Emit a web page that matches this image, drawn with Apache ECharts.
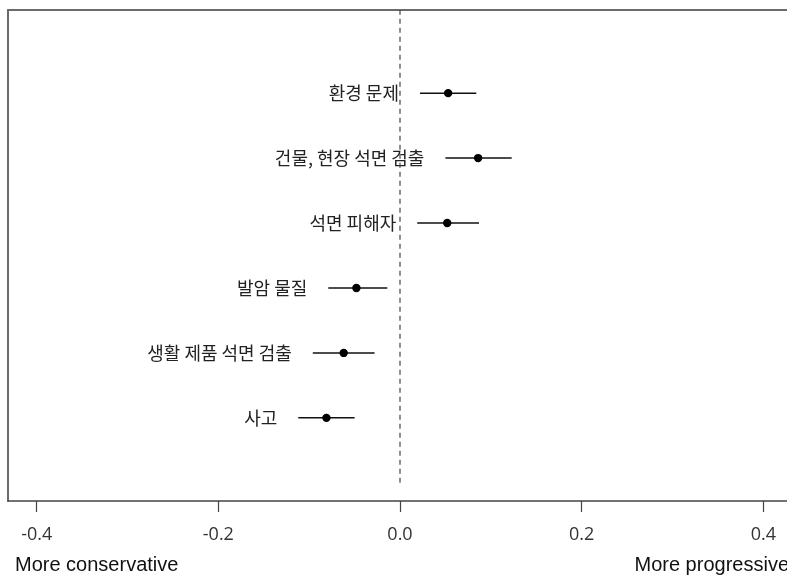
<!DOCTYPE html>
<html>
<head>
<meta charset="utf-8">
<script src="https://cdn.jsdelivr.net/npm/echarts@6/dist/echarts.min.js"></script>
<style>
  html, body { margin: 0; padding: 0; background: #fff; overflow: hidden; }
  #chart { width: 800px; height: 580px; }
</style>
</head>
<body>
<div id="chart"></div>
<script>
// Topic effects on perceived ideology: point estimate with interval
const topics = ['사고', '생활 제품 석면 검출', '발암 물질', '석면 피해자', '건물, 현장 석면 검출', '환경 문제'];
const estimates = [-0.081, -0.062, -0.048, 0.052, 0.086, 0.053];
const lowerCI = [-0.112, -0.096, -0.079, 0.019, 0.050, 0.022];
const upperCI = [-0.050, -0.028, -0.014, 0.087, 0.123, 0.084];
const tickValues = [-0.4, -0.2, 0.0, 0.2, 0.4];
const tickLabels = ['-0.4', '-0.2', '0.0', '0.2', '0.4'];
const sideLabels = ['More conservative', 'More progressive'];

const rows = topics.map((t, i) => [estimates[i], i + 1, lowerCI[i], upperCI[i], t]);

const xMin = -0.4316, xMax = 0.4316;
const frame = { color: '#6b6b6b', width: 2 };

const chart = echarts.init(document.getElementById('chart'));
chart.setOption({
  animation: false,
  backgroundColor: '#fff',
  grid: {
    left: 8, top: 10, width: 784, bottom: 79,
    containLabel: false, outerBoundsMode: 'none'
  },
  xAxis: [
    {
      type: 'value', min: xMin, max: xMax,
      splitLine: { show: false },
      axisLine: { show: true, onZero: false, lineStyle: { color: '#444', width: 1.5 } },
      axisTick: { show: true, length: 11, customValues: tickValues, lineStyle: { color: '#444', width: 1.2 } },
      axisLabel: {
        customValues: tickValues,
        formatter: v => tickLabels[tickValues.findIndex(t => Math.abs(t - v) < 1e-9)],
        margin: 25, fontSize: 18, color: '#333', fontFamily: 'Open Sans'
      }
    },
    {
      // top edge of the plot frame
      type: 'value', position: 'top', min: xMin, max: xMax,
      axisLine: { show: true, onZero: false, lineStyle: frame },
      axisTick: { show: false }, axisLabel: { show: false }, splitLine: { show: false }
    }
  ],
  yAxis: {
    type: 'value', min: -0.28, max: 7.28,
    axisLine: { show: true, onZero: false, lineStyle: frame },
    axisTick: { show: false }, axisLabel: { show: false }, splitLine: { show: false }
  },
  series: [
    {
      // reference line at zero
      type: 'line',
      data: [[0, 0], [0, 7.6]],
      symbol: 'none',
      lineStyle: { color: '#444', width: 1.2, type: [5, 4] },
      silent: true
    },
    {
      type: 'custom',
      data: rows,
      renderItem: (params, api) => {
        const y = api.value(1);
        const p = api.coord([api.value(0), y]);
        const lo = api.coord([api.value(2), y]);
        const hi = api.coord([api.value(3), y]);
        return {
          type: 'group',
          children: [
            { type: 'line', shape: { x1: lo[0], y1: lo[1], x2: hi[0], y2: hi[1] },
              style: { stroke: '#111', lineWidth: 1.5 } },
            { type: 'circle', shape: { cx: p[0], cy: p[1], r: 4.2 }, style: { fill: '#000' } },
            { type: 'text', x: lo[0] - 21, y: lo[1],
              style: { text: rows[params.dataIndex][4], align: 'right', verticalAlign: 'middle',
                fontSize: 18, fontFamily: 'Noto Sans CJK KR', fill: '#222' } }
          ]
        };
      }
    }
  ],
  graphic: [
    { type: 'text', left: 15, top: 555,
      style: { text: sideLabels[0], fontSize: 20, fontFamily: 'Liberation Sans', fill: '#111' } },
    { type: 'text', right: 11, top: 555,
      style: { text: sideLabels[1], fontSize: 20, fontFamily: 'Liberation Sans', fill: '#111' } }
  ]
});
</script>
</body>
</html>
